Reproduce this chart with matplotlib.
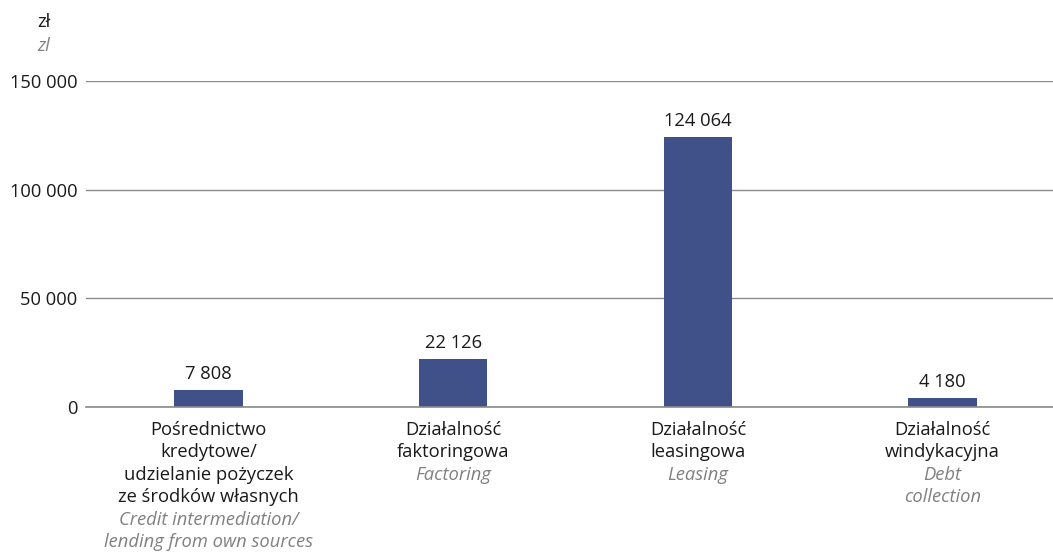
import matplotlib
matplotlib.use("Agg")
import matplotlib.pyplot as plt
from matplotlib.ticker import FixedLocator

plt.rcParams['font.family'] = ['Open Sans', 'DejaVu Sans']

labels_pl = ["Pośrednictwo\nkredytowe/\nudzielanie pożyczek\nze środków własnych",
             "Działalność\nfaktoringowa",
             "Działalność\nleasingowa",
             "Działalność\nwindykacyjna"]
labels_en = ["Credit intermediation/\nlending from own sources",
             "Factoring",
             "Leasing",
             "Debt\ncollection"]
values = [7808, 22126, 124064, 4180]
value_text = ["7 808", "22 126", "124 064", "4 180"]
yticks = [0, 50000, 100000, 150000]
ytick_labels = ["0", "50 000", "100 000", "150 000"]

W, H = 1053, 556
FS = 13.2
fig = plt.figure(figsize=(W/100, H/100), dpi=100)
left, right = 86, 1065
bottom, top = 556-407, 556-81
ax = fig.add_axes([left/W, bottom/H, (right-left)/W, (top-bottom)/H])

x = list(range(len(values)))
ax.bar(x, values, width=0.28, color="#40518a", zorder=3)
ax.set_xlim(-0.5, 3.5)
ax.set_ylim(0, 150000)

for xi, v, t in zip(x, values, value_text):
    ax.annotate(t, (xi, v), xytext=(0, 5), textcoords="offset points",
                ha="center", va="bottom", fontsize=FS, color="#1a1a1a")

ax.yaxis.set_major_locator(FixedLocator(yticks))
ax.set_yticklabels(ytick_labels, fontsize=FS, color="#1a1a1a")
ax.tick_params(axis="y", length=0, pad=6)
ax.set_xticks([])
ax.grid(axis="y", color="#8a8a8a", linewidth=1, zorder=0)
for s in ax.spines.values():
    s.set_visible(False)
ax.axhline(0, color="#8a8a8a", linewidth=1.2, zorder=4, clip_on=False)

line_h = 22.4
first_y = 430 - 407  # pixels below baseline for first line centre
for xi, pl, en in zip(x, labels_pl, labels_en):
    lines = [(s, "#1a1a1a", "normal") for s in pl.split("\n")] + \
            [(s, "#808080", "italic") for s in en.split("\n")]
    for i, (s, c, st) in enumerate(lines):
        ax.annotate(s, (xi, 0), xycoords=("data", "axes fraction"),
                    xytext=(0, -(first_y + i*line_h)), textcoords="offset pixels",
                    ha="center", va="center", fontsize=FS, color=c, style=st)

fig.text(37/W, 1-22/H, "zł", fontsize=FS, color="#1a1a1a", va="center", ha="left")
fig.text(37/W, 1-46/H, "zl", fontsize=FS, color="#808080", style="italic", va="center", ha="left")

fig.savefig("out.png", dpi=100)
